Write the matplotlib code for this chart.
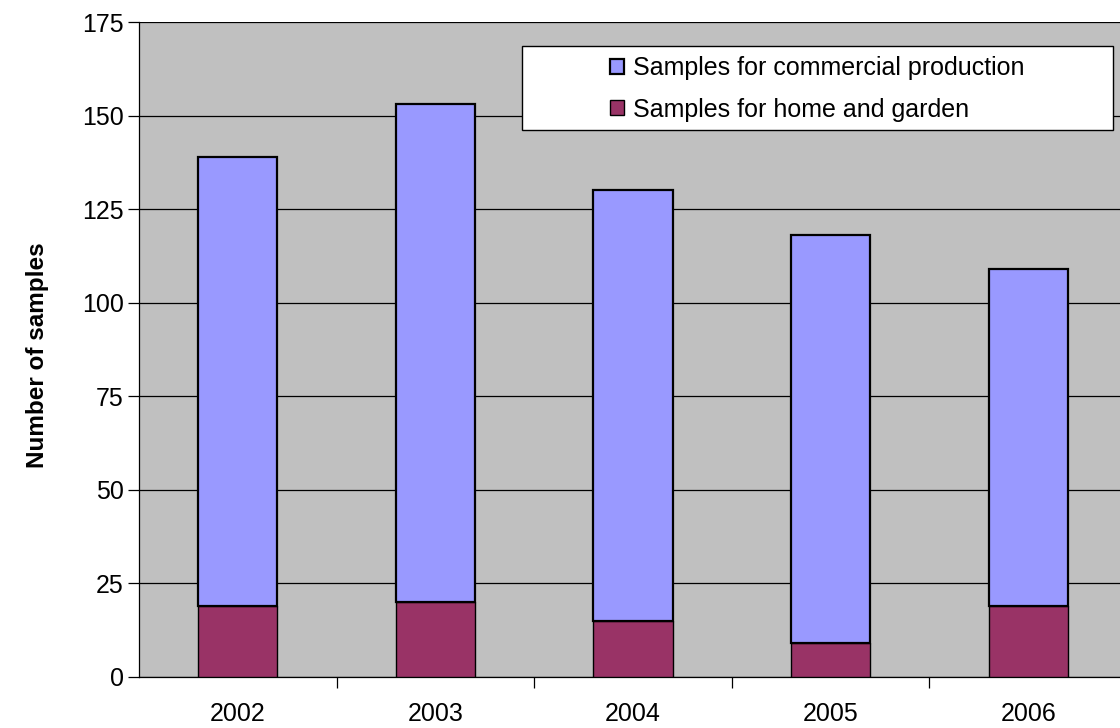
import numpy as np
import matplotlib.pyplot as plt
from matplotlib.patches import Rectangle

years = ['2002', '2003', '2004', '2005', '2006']
home = [19, 20, 15, 9, 19]
commercial = [120, 133, 115, 109, 90]

BLUE = '#9999FF'
MAROON = '#993366'
GREY = '#C0C0C0'

plt.rcParams['font.family'] = ['Liberation Sans', 'DejaVu Sans']

fig = plt.figure(figsize=(11.2, 7.28), dpi=100)
ax = fig.add_axes([139/1120, 51/728, 988/1120, 655/728])
ax.set_facecolor(GREY)

x = np.arange(len(years))
w = 0.4
ax.bar(x, home, width=w, color=MAROON, edgecolor='black', linewidth=1.0,
       label='Samples for home and garden', zorder=3)
ax.bar(x, commercial, width=w, bottom=home, color=BLUE, edgecolor='black',
       linewidth=1.6, label='Samples for commercial production', zorder=3)

ax.set_xlim(-0.5, len(years) - 0.5)
ax.set_ylim(0, 175)
ax.set_yticks(np.arange(0, 176, 25))
ax.yaxis.grid(True, color='black', linewidth=0.9, zorder=1)
ax.set_axisbelow(True)

ax.set_xticks(x)
ax.set_xticklabels(years)
ax.set_xticks(np.arange(0.5, len(years) - 0.5, 1.0), minor=True)
ax.tick_params(axis='x', which='major', length=0, pad=18, labelsize=18)
ax.tick_params(axis='x', which='minor', length=8, width=0.9, direction='out')
ax.tick_params(axis='y', length=8, width=0.9, direction='out', pad=3, labelsize=18)

for s in ['top', 'right']:
    ax.spines[s].set_visible(False)
ax.spines['left'].set_linewidth(0.9)
ax.spines['bottom'].set_linewidth(0.9)

ax.set_ylabel('Number of samples', fontsize=17.5, fontweight='bold')
ax.yaxis.set_label_coords(-0.091, 0.492)

# legend box
box = Rectangle((522/1120, 1 - 130/728), (1113 - 522)/1120, (130 - 46)/728,
                transform=fig.transFigure, facecolor='white', edgecolor='black',
                linewidth=1.0, zorder=5)
fig.patches.append(box)
h, l = ax.get_legend_handles_labels()
leg = fig.legend(h[::-1], l[::-1], loc='upper left',
                 bbox_to_anchor=(610/1120, 1 - 56/728), frameon=False,
                 fontsize=18, handlelength=0.56, handleheight=0.56,
                 handletextpad=0.35, labelspacing=0.7, borderpad=0,
                 borderaxespad=0)
leg.set_zorder(6)

fig.savefig('out.png', dpi=100)
